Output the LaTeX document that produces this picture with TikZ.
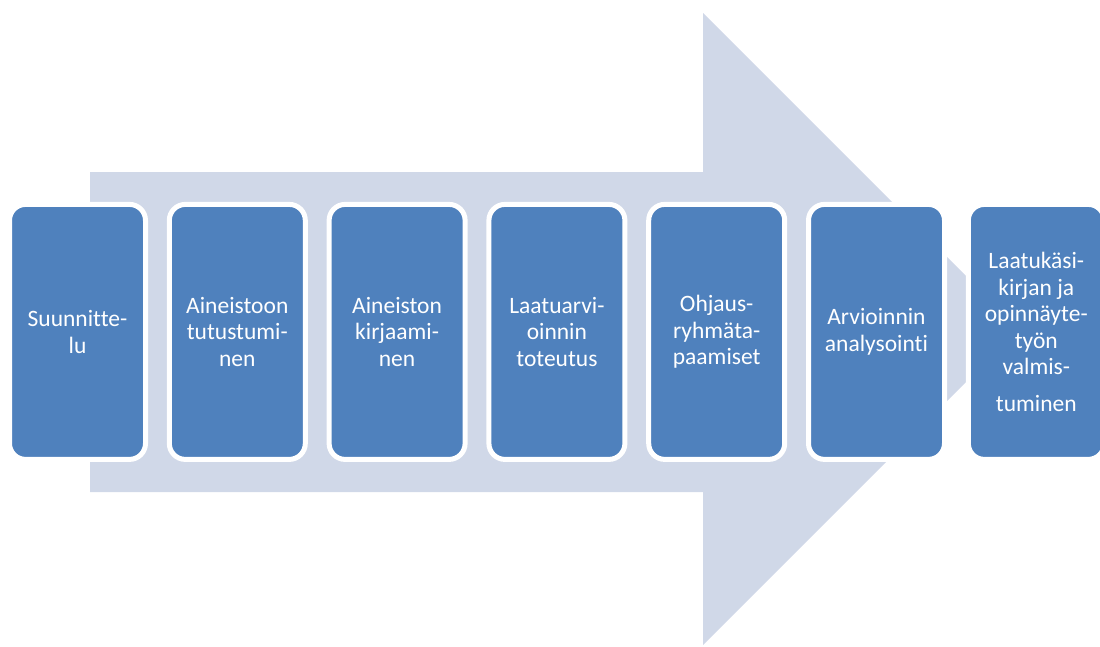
\documentclass[tikz,border=0pt]{standalone}
\usepackage{fontspec}
\setmainfont{Carlito}[Ligatures=NoCommon]
\definecolor{boxblue}{RGB}{79,129,189}
\definecolor{arrowfill}{RGB}{208,216,232}
\begin{document}
\begin{tikzpicture}[x=1pt,y=-1pt,
  stage/.style={rectangle, rounded corners=16pt, fill=boxblue, draw=white, line width=5pt,
    minimum width=136pt, minimum height=255pt, inner sep=0pt, text=white, align=center,
    font=\fontsize{23.5}{26.5}\selectfont}]
\useasboundingbox (0,0) rectangle (1100,646);
\fill[arrowfill] (90,172) -- (703,172) -- (703,13) -- (1019,329) -- (703,645) -- (703,492) -- (90,492) -- cycle;
\node[stage] (s1) at (77.5,331.9) {Suunnitte-\\lu};
\node[stage] (s2) at (237.3,331.9) {Aineistoon\\tutustumi-\\nen};
\node[stage] (s3) at (397.1,331.9) {Aineiston\\kirjaami-\\nen};
\node[stage] (s4) at (556.9,331.9) {Laatuarvi-\\oinnin\\toteutus};
\node[stage] (s5) at (716.7,331.9) {Ohjaus-\\ryhmäta-\\paamiset};
\node[stage] (s6) at (876.5,331.9) {Arvioinnin\\analysointi};
\node[stage] (s7) at (1036.3,331.9) {Laatukäsi-\\kirjan ja\\opinnäyte-\\työn\\valmis-\\[10pt]tuminen};
\end{tikzpicture}
\end{document}
